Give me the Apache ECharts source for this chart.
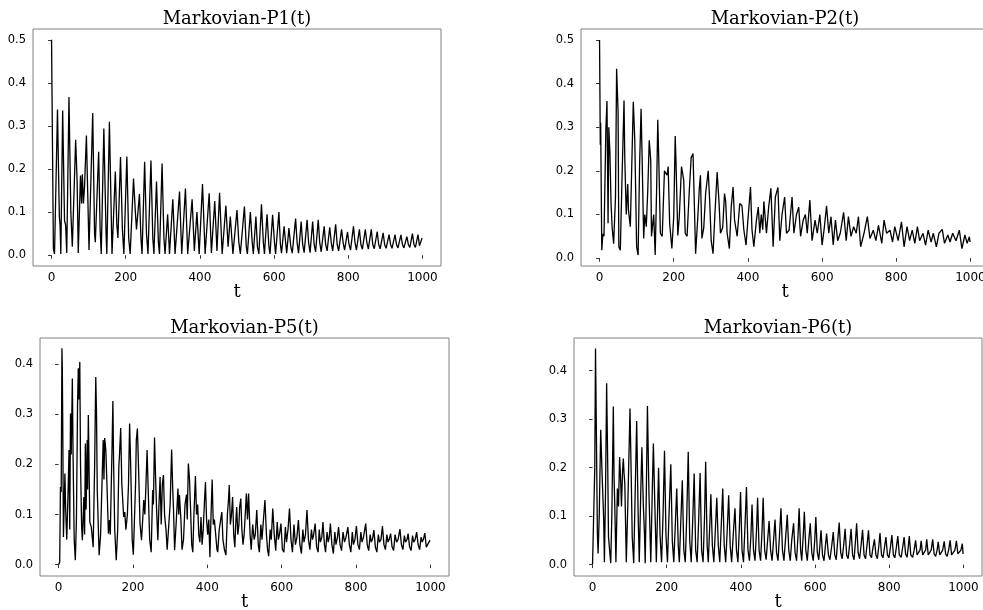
<!DOCTYPE html>
<html>
<head>
<meta charset="utf-8">
<script src="https://cdn.jsdelivr.net/npm/echarts@6/dist/echarts.min.js"></script>
<style>html,body{margin:0;padding:0;background:#fff}#c{width:983px;height:610px}</style>
</head>
<body>
<div id="c"></div>
<script>
// Titles and tick labels
const titles = ['Markovian-P1(t)', 'Markovian-P2(t)', 'Markovian-P5(t)', 'Markovian-P6(t)'];
const xTicks = [0, 200, 400, 600, 800, 1000];
const yTicksA = [0, 0.1, 0.2, 0.3, 0.4, 0.5];
const yTicksB = [0, 0.1, 0.2, 0.3, 0.4];

// Series values: [t, value] at local extremes
const p1 = [[0,0.5],[5,0.015],[8,0.003],[16,0.338],[21,0.09],[23,0.07],[25,0.003],[30,0.336],[35,0.08],[38,0.07],[41,0.005],[47,0.367],[52,0.1],[56,0.02],[65,0.268],[69,0.17],[72,0.005],[78,0.185],[81,0.12],[83,0.188],[86,0.12],[89,0.16],[94,0.278],[101,0.012],[111,0.33],[116,0.05],[118,0.03],[127,0.24],[131,0.06],[134,0.003],[141,0.294],[147,0.05],[149,0.003],[156,0.31],[163,0.003],[172,0.194],[176,0.07],[179,0.04],[186,0.228],[191,0.06],[195,0.003],[203,0.229],[208,0.04],[212,0.003],[221,0.178],[226,0.1],[229,0.06],[237,0.142],[241,0.04],[244,0.003],[251,0.217],[256,0.05],[260,0.003],[268,0.22],[273,0.04],[276,0.003],[283,0.171],[288,0.03],[291,0.003],[298,0.213],[303,0.04],[306,0.003],[313,0.095],[318,0.003],[327,0.13],[333,0.003],[345,0.148],[351,0.003],[361,0.155],[367,0.003],[379,0.13],[385,0.01],[392,0.1],[398,0.003],[407,0.165],[414,0.003],[425,0.144],[431,0.005],[440,0.126],[446,0.01],[453,0.145],[460,0.003],[470,0.115],[476,0.02],[482,0.09],[489,0.003],[500,0.105],[505,0.03],[509,0.003],[520,0.113],[525,0.02],[528,0.003],[536,0.1],[541,0.03],[544,0.003],[551,0.09],[555,0.02],[559,0.003],[566,0.118],[571,0.03],[574,0.003],[581,0.095],[586,0.02],[589,0.003],[596,0.094],[601,0.03],[604,0.003],[613,0.1],[617,0.025],[620,0.005],[627,0.067],[631,0.03],[634,0.005],[640,0.063],[645,0.02],[649,0.005],[658,0.085],[662,0.03],[666,0.005],[673,0.078],[677,0.025],[681,0.006],[689,0.082],[693,0.03],[697,0.006],[704,0.078],[708,0.025],[712,0.008],[719,0.082],[723,0.03],[727,0.008],[735,0.067],[739,0.025],[743,0.01],[750,0.065],[754,0.03],[758,0.01],[766,0.072],[770,0.025],[774,0.01],[782,0.06],[786,0.03],[790,0.012],[798,0.054],[802,0.025],[806,0.012],[814,0.067],[818,0.03],[822,0.012],[830,0.06],[834,0.025],[838,0.014],[846,0.06],[850,0.03],[854,0.014],[862,0.06],[866,0.025],[870,0.015],[878,0.055],[882,0.025],[886,0.015],[894,0.052],[898,0.025],[902,0.016],[910,0.048],[914,0.025],[918,0.016],[926,0.048],[930,0.025],[934,0.017],[942,0.047],[946,0.025],[950,0.017],[958,0.043],[962,0.025],[966,0.018],[973,0.05],[977,0.025],[981,0.018],[988,0.048],[992,0.022],[995,0.02],[999,0.04]];

const p2 = [[0,0.5],[2,0.26],[3,0.31],[6,0.018],[9,0.056],[12,0.05],[17,0.293],[20,0.36],[23,0.08],[25,0.3],[28,0.24],[31,0.125],[34,0.07],[38,0.033],[43,0.14],[46,0.434],[50,0.335],[52,0.026],[56,0.018],[60,0.163],[66,0.361],[68,0.23],[72,0.1],[76,0.17],[78,0.11],[83,0.072],[86,0.18],[91,0.358],[95,0.27],[100,0.026],[104,0.007],[108,0.216],[112,0.342],[115,0.22],[119,0.045],[122,0.1],[126,0.072],[130,0.155],[134,0.27],[138,0.224],[140,0.05],[146,0.1],[150,0.007],[154,0.163],[157,0.317],[160,0.215],[164,0.057],[169,0.05],[175,0.2],[178,0.2],[182,0.19],[185,0.21],[189,0.08],[195,0.022],[200,0.095],[204,0.28],[206,0.224],[211,0.052],[215,0.095],[221,0.21],[227,0.178],[231,0.057],[236,0.05],[242,0.155],[247,0.23],[252,0.24],[256,0.11],[259,0.01],[265,0.095],[269,0.16],[272,0.19],[276,0.045],[281,0.07],[286,0.148],[293,0.2],[297,0.13],[301,0.04],[306,0.01],[311,0.1],[317,0.197],[322,0.13],[326,0.057],[332,0.07],[337,0.148],[340,0.13],[344,0.057],[350,0.022],[355,0.117],[360,0.163],[364,0.087],[368,0.087],[371,0.05],[378,0.125],[384,0.12],[389,0.065],[395,0.03],[400,0.087],[407,0.163],[411,0.065],[416,0.026],[423,0.087],[428,0.117],[432,0.057],[436,0.1],[440,0.065],[443,0.13],[450,0.057],[456,0.117],[462,0.16],[468,0.026],[474,0.14],[481,0.162],[486,0.04],[492,0.1],[499,0.14],[504,0.057],[511,0.064],[519,0.14],[524,0.057],[531,0.1],[537,0.117],[542,0.05],[549,0.087],[555,0.1],[560,0.057],[567,0.133],[573,0.04],[581,0.087],[587,0.057],[594,0.1],[600,0.03],[606,0.07],[612,0.12],[618,0.057],[624,0.095],[630,0.03],[636,0.087],[642,0.04],[649,0.057],[658,0.105],[665,0.04],[671,0.095],[678,0.05],[685,0.072],[692,0.057],[698,0.095],[704,0.026],[713,0.057],[722,0.095],[729,0.045],[738,0.064],[745,0.04],[752,0.075],[761,0.034],[767,0.087],[774,0.057],[783,0.064],[790,0.037],[796,0.072],[805,0.04],[814,0.083],[821,0.026],[829,0.072],[836,0.04],[843,0.064],[850,0.034],[857,0.072],[863,0.04],[872,0.057],[879,0.03],[886,0.064],[894,0.037],[900,0.057],[908,0.026],[915,0.057],[924,0.066],[930,0.034],[939,0.053],[945,0.037],[952,0.057],[961,0.04],[970,0.064],[977,0.022],[985,0.053],[991,0.034],[997,0.049],[999,0.037]];

const p5 = [[0,0.0],[3,0.005],[5,0.155],[7,0.145],[9,0.432],[10,0.395],[11,0.3],[13,0.055],[17,0.182],[19,0.11],[22,0.05],[26,0.16],[28,0.229],[30,0.07],[32,0.302],[34,0.22],[37,0.372],[39,0.215],[42,0.05],[45,0.009],[48,0.09],[51,0.32],[53,0.392],[55,0.33],[57,0.405],[59,0.2],[62,0.075],[64,0.049],[68,0.135],[70,0.06],[72,0.242],[74,0.11],[77,0.249],[78,0.15],[80,0.299],[84,0.085],[88,0.075],[93,0.035],[97,0.2],[99,0.322],[100,0.375],[102,0.3],[104,0.149],[109,0.019],[113,0.06],[117,0.17],[120,0.249],[122,0.17],[124,0.253],[127,0.229],[130,0.162],[134,0.062],[137,0.089],[139,0.06],[142,0.17],[144,0.242],[146,0.327],[148,0.2],[151,0.069],[155,0.009],[159,0.07],[162,0.195],[164,0.222],[167,0.273],[170,0.162],[175,0.095],[178,0.105],[181,0.07],[185,0.1],[188,0.16],[191,0.282],[194,0.195],[198,0.049],[201,0.02],[204,0.089],[207,0.16],[209,0.249],[212,0.272],[215,0.195],[219,0.082],[223,0.049],[227,0.1],[229,0.129],[232,0.1],[235,0.16],[238,0.229],[241,0.15],[245,0.05],[249,0.025],[253,0.149],[255,0.12],[258,0.254],[261,0.17],[264,0.102],[267,0.049],[270,0.12],[273,0.175],[276,0.08],[279,0.16],[282,0.179],[285,0.1],[289,0.069],[292,0.03],[296,0.029],[300,0.12],[304,0.23],[307,0.15],[309,0.112],[312,0.029],[316,0.08],[321,0.152],[323,0.1],[325,0.139],[329,0.089],[332,0.03],[336,0.05],[340,0.12],[344,0.14],[346,0.09],[349,0.202],[352,0.172],[355,0.11],[358,0.04],[361,0.025],[364,0.1],[368,0.177],[371,0.1],[374,0.12],[377,0.06],[380,0.045],[383,0.095],[386,0.04],[389,0.07],[392,0.12],[395,0.165],[398,0.09],[401,0.06],[404,0.09],[407,0.015],[410,0.1],[413,0.17],[416,0.08],[419,0.09],[423,0.089],[426,0.03],[428,0.025],[432,0.07],[436,0.09],[439,0.105],[442,0.05],[446,0.03],[450,0.019],[454,0.1],[457,0.13],[459,0.159],[462,0.08],[465,0.1],[468,0.135],[471,0.06],[474,0.035],[477,0.09],[479,0.115],[482,0.06],[485,0.08],[487,0.115],[490,0.132],[493,0.07],[496,0.04],[499,0.06],[502,0.1],[505,0.142],[508,0.09],[511,0.142],[515,0.06],[518,0.03],[522,0.08],[526,0.05],[529,0.06],[533,0.109],[537,0.04],[540,0.025],[544,0.08],[547,0.05],[551,0.09],[555,0.129],[559,0.06],[562,0.03],[565,0.017],[569,0.07],[572,0.05],[576,0.112],[580,0.06],[584,0.028],[588,0.085],[591,0.05],[594,0.06],[598,0.082],[602,0.03],[606,0.025],[610,0.075],[613,0.045],[617,0.07],[621,0.112],[625,0.05],[629,0.025],[633,0.08],[637,0.04],[641,0.055],[645,0.089],[649,0.04],[653,0.022],[657,0.07],[660,0.045],[664,0.06],[668,0.109],[672,0.05],[676,0.03],[680,0.07],[683,0.05],[686,0.06],[690,0.082],[694,0.035],[698,0.025],[701,0.07],[704,0.045],[708,0.055],[711,0.085],[715,0.04],[718,0.025],[722,0.065],[725,0.045],[728,0.055],[731,0.082],[735,0.04],[739,0.022],[743,0.065],[746,0.04],[750,0.055],[753,0.075],[757,0.04],[761,0.028],[765,0.065],[769,0.045],[773,0.055],[778,0.075],[782,0.04],[786,0.025],[790,0.065],[793,0.04],[797,0.05],[801,0.077],[805,0.04],[809,0.03],[813,0.065],[816,0.045],[820,0.055],[826,0.082],[830,0.04],[834,0.028],[838,0.06],[841,0.045],[844,0.05],[848,0.069],[852,0.035],[856,0.025],[860,0.06],[863,0.045],[867,0.05],[871,0.077],[875,0.04],[879,0.03],[883,0.06],[886,0.045],[889,0.05],[893,0.062],[897,0.035],[901,0.028],[905,0.06],[909,0.045],[913,0.05],[918,0.071],[922,0.04],[926,0.03],[930,0.058],[933,0.045],[937,0.05],[940,0.062],[944,0.035],[948,0.028],[952,0.058],[955,0.045],[959,0.05],[963,0.065],[967,0.04],[971,0.03],[975,0.055],[978,0.045],[981,0.05],[985,0.063],[989,0.035],[993,0.032],[996,0.045],[999,0.049]];

const p6 = [[0,0.0],[4,0.0],[6,0.2],[8,0.446],[10,0.3],[13,0.064],[15,0.023],[18,0.1],[22,0.278],[26,0.18],[30,0.095],[32,0.005],[35,0.15],[38,0.374],[41,0.2],[43,0.057],[46,0.03],[49,0.003],[52,0.1],[56,0.326],[58,0.181],[60,0.12],[63,0.005],[67,0.157],[70,0.12],[73,0.222],[76,0.17],[78,0.12],[81,0.195],[83,0.219],[85,0.188],[87,0.167],[91,0.005],[95,0.12],[101,0.322],[105,0.15],[107,0.057],[111,0.003],[115,0.15],[119,0.296],[123,0.1],[126,0.005],[130,0.15],[133,0.242],[137,0.12],[140,0.064],[142,0.003],[145,0.15],[148,0.327],[152,0.15],[155,0.064],[157,0.005],[161,0.15],[164,0.25],[168,0.12],[172,0.005],[175,0.1],[178,0.2],[182,0.06],[186,0.005],[190,0.1],[194,0.235],[198,0.06],[202,0.005],[206,0.1],[211,0.207],[215,0.05],[219,0.005],[223,0.08],[227,0.157],[231,0.04],[234,0.005],[238,0.09],[242,0.174],[246,0.03],[250,0.005],[254,0.1],[258,0.233],[262,0.05],[266,0.005],[270,0.09],[274,0.188],[278,0.03],[282,0.005],[286,0.09],[290,0.189],[294,0.03],[298,0.005],[302,0.1],[305,0.212],[309,0.04],[312,0.005],[316,0.08],[319,0.145],[323,0.04],[327,0.005],[331,0.07],[335,0.138],[339,0.04],[343,0.005],[347,0.08],[351,0.157],[355,0.04],[359,0.005],[363,0.07],[367,0.143],[371,0.04],[375,0.005],[380,0.07],[384,0.116],[388,0.03],[392,0.005],[396,0.08],[399,0.15],[403,0.03],[407,0.005],[411,0.08],[415,0.16],[419,0.03],[423,0.008],[427,0.06],[430,0.124],[434,0.03],[438,0.008],[442,0.07],[445,0.138],[449,0.03],[453,0.008],[457,0.07],[460,0.138],[464,0.03],[468,0.01],[472,0.05],[476,0.09],[480,0.03],[484,0.008],[488,0.05],[492,0.093],[496,0.025],[500,0.008],[504,0.06],[508,0.116],[512,0.03],[516,0.008],[520,0.05],[525,0.103],[529,0.03],[533,0.008],[537,0.05],[542,0.085],[546,0.025],[550,0.008],[554,0.06],[557,0.116],[561,0.03],[564,0.008],[568,0.06],[571,0.109],[575,0.03],[579,0.008],[583,0.05],[587,0.085],[591,0.025],[595,0.008],[599,0.05],[602,0.098],[606,0.025],[610,0.01],[613,0.04],[616,0.071],[620,0.02],[624,0.008],[628,0.04],[631,0.064],[636,0.02],[640,0.01],[645,0.04],[649,0.067],[653,0.02],[657,0.01],[661,0.05],[665,0.087],[669,0.025],[673,0.012],[677,0.04],[681,0.074],[685,0.02],[689,0.012],[693,0.04],[697,0.074],[701,0.02],[705,0.01],[709,0.05],[712,0.085],[716,0.025],[720,0.012],[724,0.04],[728,0.072],[732,0.02],[736,0.012],[740,0.04],[744,0.071],[748,0.02],[752,0.014],[756,0.035],[760,0.052],[764,0.02],[768,0.012],[772,0.04],[775,0.065],[779,0.02],[783,0.014],[787,0.035],[791,0.057],[795,0.02],[799,0.014],[803,0.035],[807,0.061],[811,0.02],[815,0.014],[819,0.035],[823,0.059],[827,0.02],[832,0.015],[836,0.035],[840,0.057],[844,0.022],[848,0.015],[851,0.035],[854,0.059],[858,0.02],[863,0.015],[867,0.03],[871,0.05],[875,0.02],[879,0.016],[883,0.03],[886,0.049],[890,0.02],[894,0.016],[898,0.03],[901,0.052],[905,0.02],[909,0.016],[913,0.03],[917,0.052],[921,0.022],[925,0.017],[929,0.03],[932,0.047],[936,0.02],[940,0.017],[944,0.03],[948,0.048],[952,0.022],[956,0.017],[960,0.03],[964,0.05],[968,0.02],[972,0.018],[977,0.03],[981,0.049],[985,0.022],[989,0.018],[993,0.03],[997,0.043],[999,0.022]];

const seriesData = [p1, p2, p5, p6];
const yTickSets = [yTicksA, yTicksA, yTicksB, yTicksB];

// Layout (pixel boxes of the four panels)
const boxes = [
  {left: 33, top: 29, width: 408, height: 237, ymin: -0.025, ymax: 0.525},
  {left: 581, top: 29, width: 408, height: 237, ymin: -0.018, ymax: 0.525},
  {left: 40, top: 338, width: 409, height: 238, ymin: -0.0227, ymax: 0.4527},
  {left: 574, top: 338, width: 408, height: 238, ymin: -0.0235, ymax: 0.4675}
];

const chart = echarts.init(document.getElementById('c'), null, {renderer: 'canvas'});
const grids = [], xAxes = [], yAxes = [], series = [], graphics = [];
boxes.forEach((b, i) => {
  grids.push({left: b.left, top: b.top, width: b.width, height: b.height, show: true,
    borderColor: '#808080', borderWidth: 1, backgroundColor: 'transparent', containLabel: false,
    outerBoundsMode: 'none'});
  xAxes.push({type: 'value', gridIndex: i, min: -50, max: 1050,
    axisLine: {show: false}, splitLine: {show: false},
    axisTick: {show: true, length: 3.5, lineStyle: {color: '#333'}, customValues: xTicks},
    axisLabel: {customValues: xTicks, color: '#000', fontFamily: 'DejaVu Sans', fontSize: 12, margin: 6,
      formatter: v => String(v)}});
  yAxes.push({type: 'value', gridIndex: i, min: b.ymin, max: b.ymax,
    axisLine: {show: false}, splitLine: {show: false},
    axisTick: {show: true, length: 3.5, lineStyle: {color: '#333'}, customValues: yTickSets[i]},
    axisLabel: {customValues: yTickSets[i], color: '#000', fontFamily: 'DejaVu Sans', fontSize: 11.5, margin: 7,
      formatter: v => v.toFixed(1)}});
  series.push({type: 'line', xAxisIndex: i, yAxisIndex: i, data: seriesData[i], showSymbol: false,
    symbol: 'none', lineStyle: {color: '#000', width: 1.3}, animation: false});
  const cx = b.left + b.width / 2;
  graphics.push({type: 'text', x: cx, y: b.top - 10, style: {text: titles[i], font: '18px "DejaVu Serif"',
    fill: '#000', textAlign: 'center', textVerticalAlign: 'middle'}});
  graphics.push({type: 'text', x: cx, y: b.top + b.height + 26, style: {text: 't', font: '18px "DejaVu Serif"',
    fill: '#000', textAlign: 'center', textVerticalAlign: 'middle'}});
});

chart.setOption({animation: false, grid: grids, xAxis: xAxes, yAxis: yAxes, series: series, graphic: graphics});
</script>
</body>
</html>
